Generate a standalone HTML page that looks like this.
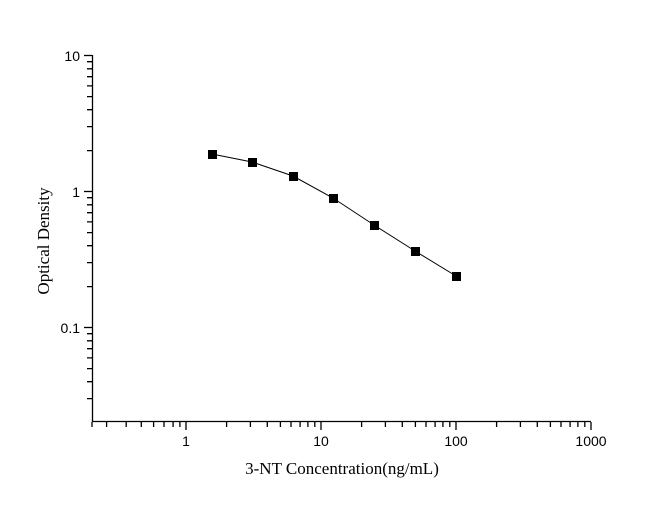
<!DOCTYPE html>
<html><head><style>body{margin:0;background:#fff}</style></head><body>
<svg width="670" height="507" xmlns="http://www.w3.org/2000/svg">
<rect width="670" height="507" fill="#fff"/>
<g stroke="#000" stroke-width="1.3" fill="none">
<line x1="92.5" y1="55" x2="92.5" y2="422"/>
<line x1="92" y1="421.5" x2="591" y2="421.5"/>
<!-- y major -->
<line x1="84" y1="55.5" x2="92" y2="55.5"/>
<line x1="84" y1="191.5" x2="92" y2="191.5"/>
<line x1="84" y1="327.5" x2="92" y2="327.5"/>
<!-- y minor -->
<path d="M87 61.7H92M87 68.8H92M87 76.7H92M87 85.9H92M87 96.6H92M87 109.7H92M87 126.6H92M87 150.6H92
M87 197.7H92M87 204.8H92M87 212.7H92M87 221.9H92M87 232.6H92M87 245.7H92M87 262.6H92M87 286.6H92
M87 333.7H92M87 340.8H92M87 348.7H92M87 357.9H92M87 368.6H92M87 381.7H92M87 398.6H92"/>
<!-- x major -->
<path d="M186 422V430M321 422V430M456 422V430M591 422V430"/>
<!-- x minor -->
<path d="M92 422V427M106.6 422V427M126.2 422V427M141.3 422V427M153.6 422V427M164 422V427M173.1 422V427M179.9 422V427
M226.6 422V427M250.4 422V427M267.3 422V427M280.4 422V427M291 422V427M300.1 422V427M307.9 422V427M314.8 422V427
M361.6 422V427M385.4 422V427M402.3 422V427M415.4 422V427M426 422V427M435.1 422V427M442.9 422V427M449.8 422V427
M496.6 422V427M520.4 422V427M537.3 422V427M550.4 422V427M561 422V427M570.1 422V427M577.9 422V427M584.8 422V427"/>
</g>
<polyline points="212,154 252,162 293,176 333,198 374,225 415,251 456,276" fill="none" stroke="#000" stroke-width="1"/>
<g fill="#000">
<rect x="208" y="150" width="9" height="9"/>
<rect x="248" y="158" width="9" height="9"/>
<rect x="289" y="172" width="9" height="9"/>
<rect x="329" y="194" width="9" height="9"/>
<rect x="370" y="221" width="9" height="9"/>
<rect x="411" y="247" width="9" height="9"/>
<rect x="452" y="272" width="9" height="9"/>
</g>
<g font-family="Liberation Sans, sans-serif" font-size="14" fill="#000">
<text x="80" y="61" text-anchor="end">10</text>
<text x="80" y="197" text-anchor="end">1</text>
<text x="80" y="333" text-anchor="end">0.1</text>
<text x="186" y="446" text-anchor="middle">1</text>
<text x="321" y="446" text-anchor="middle">10</text>
<text x="456" y="446" text-anchor="middle">100</text>
<text x="591" y="446" text-anchor="middle">1000</text>
</g>
<g font-family="Liberation Serif, serif" font-size="17" fill="#000">
<text x="342" y="474" text-anchor="middle">3-NT Concentration(ng/mL)</text>
<text transform="translate(49,241) rotate(-90)" text-anchor="middle">Optical Density</text>
</g>
</svg>
</body></html>
